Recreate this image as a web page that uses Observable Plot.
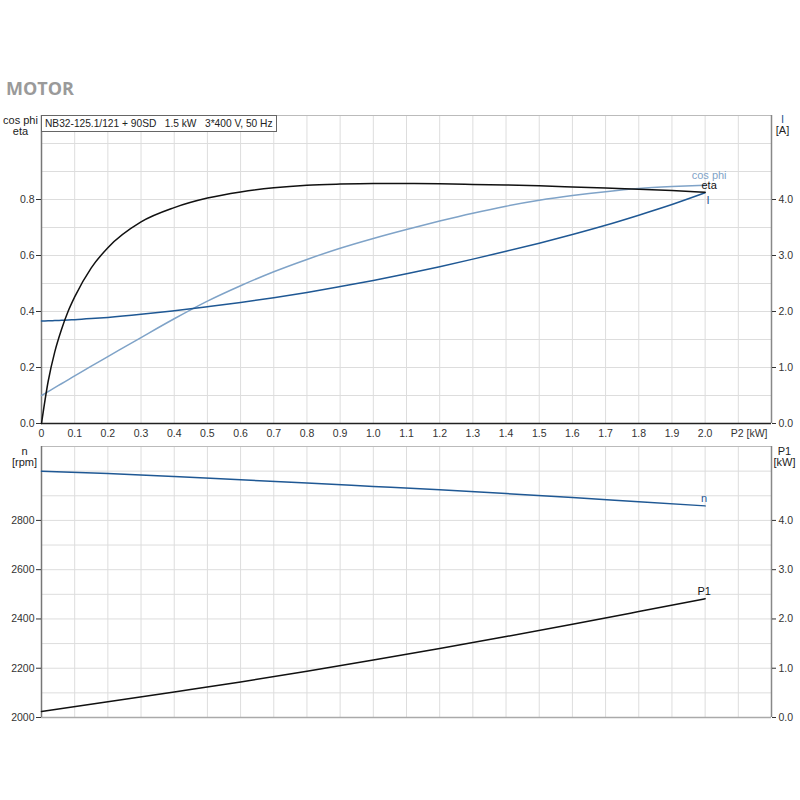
<!DOCTYPE html>
<html><head><meta charset="utf-8">
<script src="https://cdn.jsdelivr.net/npm/d3@7"></script>
<script src="https://cdn.jsdelivr.net/npm/@observablehq/plot@0.6"></script>
<style>
body{margin:0;background:#fff;}
#wrap{position:relative;width:800px;height:800px;font-family:"Liberation Sans",Arial,sans-serif;}
#title{position:absolute;left:6px;top:78px;font-family:"Open Sans",sans-serif;font-weight:700;font-size:18px;line-height:21px;color:#9a9a9a;}
#top{position:absolute;left:0;top:100px;}
#bottom{position:absolute;left:0;top:443px;}
#hdr{position:absolute;left:41px;top:115px;height:17px;line-height:16px;padding:0 3px;border:1px solid #666;background:#fff;font-size:10.2px;color:#222;white-space:pre;box-sizing:border-box;}
</style></head>
<body>
<div id="wrap">
  <div id="title">MOTOR</div>
  <div id="top"></div>
  <div id="bottom"></div>
  <div id="hdr">NB32-125.1/121 + 90SD   1.5 kW   3*400 V, 50 Hz</div>
</div>
<script>
// ---- data (top chart) ----
const p2      = [0, 0.02, 0.04, 0.06, 0.08, 0.1, 0.15, 0.2, 0.3, 0.4, 0.5, 0.6, 0.7, 0.8, 0.9, 1.0, 1.1, 1.2, 1.3, 1.4, 1.5, 1.6, 1.7, 1.8, 1.9, 2.0];
const eta     = [0, 0.15, 0.256, 0.335, 0.40, 0.452, 0.556, 0.628, 0.72, 0.771, 0.805, 0.827, 0.842, 0.851, 0.855, 0.857, 0.857, 0.856, 0.854, 0.852, 0.849, 0.845, 0.841, 0.837, 0.832, 0.826];
const cosPhi  = [0.1, 0.114, 0.128, 0.142, 0.156, 0.170, 0.205, 0.239, 0.307, 0.374, 0.437, 0.492, 0.542, 0.586, 0.626, 0.661, 0.693, 0.723, 0.751, 0.776, 0.797, 0.814, 0.828, 0.839, 0.846, 0.851];
const current = [1.83, 1.834, 1.838, 1.843, 1.848, 1.854, 1.873, 1.895, 1.95, 2.015, 2.085, 2.16, 2.245, 2.34, 2.445, 2.555, 2.675, 2.80, 2.935, 3.075, 3.22, 3.375, 3.54, 3.72, 3.91, 4.12];
// ---- data (bottom chart) ----
const p2b   = [0, 0.2, 0.4, 0.6, 0.8, 1.0, 1.2, 1.4, 1.6, 1.8, 2.0];
const speed = [3000, 2990, 2978, 2965, 2952, 2938, 2924, 2909, 2893, 2876, 2859];
const p1    = [0.12, 0.318, 0.519, 0.722, 0.94, 1.167, 1.40, 1.643, 1.893, 2.15, 2.41];
// ---- ticks / domains ----
const xDomain = [0, 2.2], etaDomain = [0, 1.1], iDomain = [0, 5.5], nDomain = [2000, 3100], p1Domain = [0, 5.5];
const xTicks = d3.range(0, 21).map(i => i / 10);
const xGrid = d3.range(1, 22).map(i => i / 10);
const etaTicks = [0, 0.2, 0.4, 0.6, 0.8];
const etaGrid = d3.range(1, 11).map(i => i / 10);
const iTicks = [0, 1, 2, 3, 4];
const nTicks = [2000, 2200, 2400, 2600, 2800];
const nGrid = d3.range(2100, 3001, 100);
const p1Ticks = [0, 1, 2, 3, 4];

const C_ETA = "#111", C_COS = "#7fa3c8", C_I = "#1f5894", C_N = "#1f5894", C_P1 = "#111";
const GRID = {stroke: "#dddddd", strokeOpacity: 1};
const FONT = "'Liberation Sans', Arial, sans-serif";
const LW = 1.5;

const lin = (d0, d1) => v => d1[0] + (v - d0[0]) / (d0[1] - d0[0]) * (d1[1] - d1[0]);
const iToEta = lin(iDomain, etaDomain), etaToI = lin(etaDomain, iDomain);
const p1ToN = lin(p1Domain, nDomain), nToP1 = lin(nDomain, p1Domain);

const rows = p2.map((x, i) => ({x, eta: eta[i], cos: cosPhi[i], I: iToEta(current[i])}));
const rowsB = p2b.map((x, i) => ({x, n: speed[i], p1: p1ToN(p1[i])}));
const last = rows[rows.length - 1], lastB = rowsB[rowsB.length - 1];

const topPlot = Plot.plot({
  width: 800, height: 343, marginTop: 15, marginBottom: 20, marginLeft: 41, marginRight: 29,
  style: {fontFamily: FONT, fontSize: "10.5px", color: "#333", background: "#fff", overflow: "visible"},
  x: {domain: xDomain, axis: null},
  y: {domain: etaDomain, axis: null},
  marks: [
    Plot.gridX(xGrid, GRID),
    Plot.gridY(etaGrid, GRID),
    Plot.ruleY([etaDomain[1]], {stroke: "#bbb"}),
    Plot.ruleX([xDomain[1]], {stroke: "#888", strokeWidth: 1.5}),
    Plot.ruleX([xDomain[0]], {stroke: "#777", strokeWidth: 1.5}),
    Plot.ruleY([etaDomain[0]], {stroke: "#222", strokeWidth: 1.5}),
    Plot.axisY(etaTicks, {anchor: "left", tickSize: 5, tickPadding: 2, label: null, tickFormat: d => d.toFixed(1)}),
    Plot.axisY(iTicks.map(iToEta), {anchor: "right", tickSize: 4, tickPadding: 3, label: null, tickFormat: d => etaToI(d).toFixed(1)}),
    Plot.axisX(xTicks, {anchor: "bottom", tickSize: 0, tickPadding: 6, label: null, tickFormat: d => d === 0 ? "0" : d.toFixed(1)}),
    Plot.text(["P2 [kW]"], {frameAnchor: "bottom-right", dx: -4, dy: 10, textAnchor: "end", lineAnchor: "middle", fill: "#333"}),
    Plot.text(["cos phi\neta"], {frameAnchor: "top-left", dx: -21, dy: 1, lineAnchor: "top", textAnchor: "middle", fill: "#222", fontSize: 11}),
    Plot.text(["I"], {frameAnchor: "top-right", dx: 11, dy: 0, lineAnchor: "top", textAnchor: "middle", fill: C_I, fontSize: 11}),
    Plot.text(["[A]"], {frameAnchor: "top-right", dx: 11, dy: 11, lineAnchor: "top", textAnchor: "middle", fill: "#222", fontSize: 11}),
    Plot.line(rows, {x: "x", y: "cos", stroke: C_COS, strokeWidth: LW, curve: "monotone-x"}),
    Plot.line(rows, {x: "x", y: "I", stroke: C_I, strokeWidth: LW, curve: "monotone-x"}),
    Plot.line(rows, {x: "x", y: "eta", stroke: C_ETA, strokeWidth: LW, curve: "monotone-x"}),
    Plot.text([last], {x: "x", y: "cos", text: () => "cos phi", fill: C_COS, dx: 4, dy: -9.5, fontSize: 11}),
    Plot.text([last], {x: "x", y: "eta", text: () => "eta", fill: "#111", dx: 4, dy: -6.5, fontSize: 11}),
    Plot.text([last], {x: "x", y: "I", text: () => "I", fill: C_I, dx: 3, dy: 8, fontSize: 11})
  ]
});
document.getElementById("top").appendChild(topPlot);

const bottomPlot = Plot.plot({
  width: 800, height: 294, marginTop: 3, marginBottom: 20, marginLeft: 41, marginRight: 29,
  style: {fontFamily: FONT, fontSize: "10.5px", color: "#333", background: "#fff", overflow: "visible"},
  x: {domain: xDomain, axis: null},
  y: {domain: nDomain, axis: null},
  marks: [
    Plot.gridX(xGrid, GRID),
    Plot.gridY(nGrid, GRID),
    Plot.ruleY([nDomain[1]], {stroke: "#bbb"}),
    Plot.ruleY([nDomain[0]], {stroke: "#aaa", strokeWidth: 1.5}),
    Plot.ruleX([xDomain[1]], {stroke: "#888", strokeWidth: 1.5}),
    Plot.ruleX([xDomain[0]], {stroke: "#777", strokeWidth: 1.5}),
    Plot.axisY(nTicks, {anchor: "left", tickSize: 5, tickPadding: 2, label: null, tickFormat: d => String(d)}),
    Plot.axisY(p1Ticks.map(p1ToN), {anchor: "right", tickSize: 4, tickPadding: 3, label: null, tickFormat: d => nToP1(d).toFixed(1)}),
    Plot.text(["n\n[rpm]"], {frameAnchor: "top-left", dx: -17, dy: 1, lineAnchor: "top", textAnchor: "middle", fill: "#222", fontSize: 11}),
    Plot.text(["P1\n[kW]"], {frameAnchor: "top-right", dx: 13, dy: 1, lineAnchor: "top", textAnchor: "middle", fill: "#222", fontSize: 11}),
    Plot.line(rowsB, {x: "x", y: "n", stroke: C_N, strokeWidth: LW, curve: "monotone-x"}),
    Plot.line(rowsB, {x: "x", y: "p1", stroke: C_P1, strokeWidth: LW, curve: "monotone-x"}),
    Plot.text([lastB], {x: "x", y: "n", text: () => "n", fill: C_N, dx: -1, dy: -7, fontSize: 11}),
    Plot.text([lastB], {x: "x", y: "p1", text: () => "P1", fill: "#111", dx: -1, dy: -7, fontSize: 11})
  ]
});
document.getElementById("bottom").appendChild(bottomPlot);
</script>
</body></html>
